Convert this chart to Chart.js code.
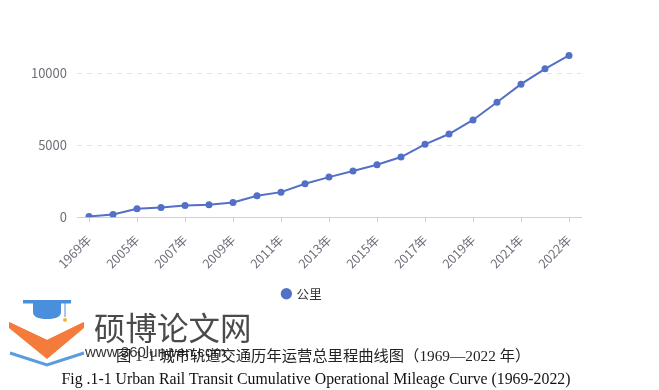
<!DOCTYPE html>
<html>
<head>
<meta charset="utf-8">
<script src="https://cdn.jsdelivr.net/npm/chart.js@4"></script>
<style>
  html, body { margin: 0; padding: 0; background: #fff; }
  #wrap { position: relative; width: 659px; height: 390px; overflow: hidden; }
  #box { position: absolute; left: 0; top: 0; width: 659px; height: 314px; }
  .cap1 { position: absolute; left: 116px; top: 343px; font: 15.3px "Liberation Serif", "Noto Sans CJK SC", serif; color: #222; white-space: nowrap; }
  .cap2 { position: absolute; left: 0; width: 632px; text-align: center; top: 370px; font: 15.8px "Liberation Serif", serif; color: #111; white-space: nowrap; }
  .wm1 { position: absolute; left: 94px; top: 303px; font: 31.5px "Noto Sans CJK SC", sans-serif; color: #4a4a4a; white-space: nowrap; }
  .wm2 { position: absolute; left: 85px; top: 343px; font: 15px "Liberation Sans", sans-serif; color: #333; white-space: nowrap; }
  svg { position: absolute; left: 0; top: 295px; }
</style>
</head>
<body>
<div id="wrap">
  <div id="box"><canvas id="c"></canvas></div>
  <svg width="90" height="75" viewBox="0 0 90 75">
    <polygon points="9,27 47,45 84,27 84,33 47,64 9,33" fill="#f47b3b"/>
    <polygon points="9,27 47,45 84,27 47,62" fill="#f47b3b"/>
    <polyline points="10,58 47,70 84,58" fill="none" stroke="#5b9be0" stroke-width="3"/>
    <rect x="23" y="5" width="48" height="3.5" fill="#4a8fdc"/>
    <path d="M33 8 L61 8 L61 17 Q61 24 47 24 Q33 24 33 17 Z" fill="#4a8fdc"/>
    <line x1="65" y1="8" x2="65" y2="22" stroke="#4a8fdc" stroke-width="1"/>
    <circle cx="65" cy="25" r="2" fill="#f5b335"/>
  </svg>
  <div class="wm1">硕博论文网</div>
  <div class="wm2">www.360lunwen.com</div>
  <div class="cap1">图 1-1 城市轨道交通历年运营总里程曲线图（1969—2022 年）</div>
  <div class="cap2">Fig .1-1 Urban Rail Transit Cumulative Operational Mileage Curve (1969-2022)</div>
</div>
<script>
const categories = ["1969年","2004年","2005年","2006年","2007年","2008年","2009年","2010年","2011年","2012年","2013年","2014年","2015年","2016年","2017年","2018年","2019年","2020年","2021年","2022年","2022年"];
const mileage = [50, 190, 585, 676, 815, 864, 1025, 1490, 1743, 2328, 2788, 3206, 3652, 4182, 5067, 5785, 6761, 7995, 9249, 10316, 11250];
const seriesName = "公里";
const yTicks = [0, 5000, 10000];

const fontFam = '"Noto Sans CJK SC", "Noto Sans", sans-serif';
new Chart(document.getElementById('c'), {
  type: 'line',
  data: {
    labels: categories,
    datasets: [{
      label: seriesName,
      data: mileage,
      borderColor: '#5470c6',
      backgroundColor: '#5470c6',
      borderWidth: 2,
      pointRadius: 3.5,
      pointBorderWidth: 0,
      pointBackgroundColor: '#5470c6',
      tension: 0,
      fill: false
    }]
  },
  options: {
    responsive: true,
    maintainAspectRatio: false,
    animation: false,
    layout: { padding: { left: 23, right: 78, top: 44.6, bottom: 4 } },
    plugins: {
      legend: {
        position: 'bottom',
        labels: {
          usePointStyle: true,
          pointStyle: 'circle',
          boxWidth: 8,
          boxHeight: 8,
          padding: 10,
          color: '#333',
          font: { size: 12.5, family: fontFam }
        }
      },
      tooltip: { enabled: false }
    },
    scales: {
      x: {
        type: 'category',
        offset: true,
        grid: {
          drawOnChartArea: false,
          drawTicks: true,
          tickLength: 5,
          color: (ctx) => (ctx.index % 2 === 0 ? '#cfd2d8' : 'rgba(0,0,0,0)')
        },
        border: { display: true, color: '#cfd2d8', width: 1 },
        ticks: {
          autoSkip: false,
          maxRotation: 45,
          minRotation: 45,
          padding: 10,
          color: '#6e7079',
          font: { size: 12.5, family: fontFam },
          callback: function(v, i) { return i % 2 === 0 ? this.getLabelForValue(v) : ''; }
        },
        afterFit: (s) => { s.height = 60.3; }
      },
      y: {
        min: 0,
        max: 12000,
        afterBuildTicks: (s) => { s.ticks = yTicks.map(v => ({ value: v })); },
        grid: {
          drawTicks: false,
          color: '#e0e6f1',
          lineWidth: 1
        },
        border: { display: false, dash: [5, 5] },
        ticks: {
          padding: 10,
          color: '#6e7079',
          font: { size: 13, family: fontFam },
          callback: (v) => String(v)
        },
        afterFit: (s) => { s.width = 54; }
      }
    }
  }
});
</script>
</body>
</html>
